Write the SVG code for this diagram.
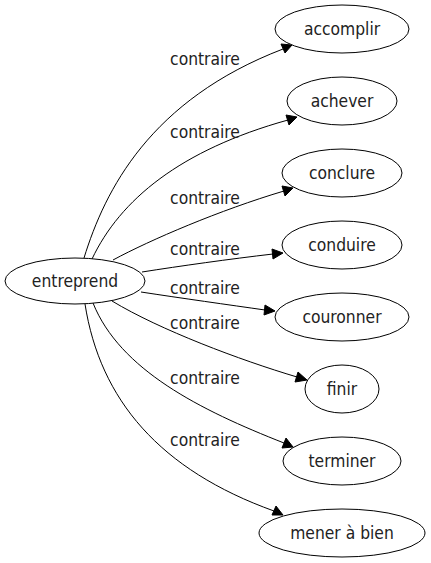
<svg xmlns="http://www.w3.org/2000/svg" width="431" height="563" viewBox="0 0 431 563">
<style>
.n ellipse{fill:#fff;stroke:#000;stroke-width:1}
text{font-family:"DejaVu Sans Condensed","DejaVu Sans",sans-serif;font-stretch:condensed;font-size:17.3px;fill:#222;text-anchor:middle}
.e path{fill:none;stroke:#000;stroke-width:1}
.e polygon{fill:#000;stroke:#000;stroke-width:1}
</style>
<rect width="431" height="563" fill="#fff"/>
<g id="edges" class="e">
<path d="M84,258 C105,190 150,100 283,49"/><polygon points="292,45 281,44 285,53"/>
<text x="205" y="65">contraire</text>
<path d="M92,259 C120,200 180,150 288,120"/><polygon points="297,117 286,115 289,125"/>
<text x="205" y="138">contraire</text>
<path d="M113,260 C150,240 220,210 284,191"/><polygon points="293,188 282,186 285,196"/>
<text x="205" y="204">contraire</text>
<path d="M142,272 C180,266 230,259 273,254"/><polygon points="283,253 272,249 273,259"/>
<text x="205" y="255">contraire</text>
<path d="M141,292 C180,298 230,305 265,310"/><polygon points="275,311 265,305 264,315"/>
<text x="205" y="294">contraire</text>
<path d="M112,301 C160,330 240,360 297,377"/><polygon points="307,380 298,372 295,382"/>
<text x="205" y="329">contraire</text>
<path d="M93,303 C120,370 200,410 284,443"/><polygon points="293,447 286,438 282,448"/>
<text x="205" y="384">contraire</text>
<path d="M85,304 C100,400 160,470 274,511"/><polygon points="283,515 276,506 272,515"/>
<text x="205" y="446">contraire</text>
</g>
<g id="entreprend" class="n"><ellipse cx="75" cy="281" rx="70" ry="23"/><text x="75" y="287">entreprend</text></g>
<g id="accomplir" class="n"><ellipse cx="342" cy="29" rx="67" ry="24"/><text x="342" y="35">accomplir</text></g>
<g id="achever" class="n"><ellipse cx="342" cy="101" rx="55" ry="24"/><text x="342" y="107">achever</text></g>
<g id="conclure" class="n"><ellipse cx="342" cy="173" rx="60" ry="24"/><text x="342" y="179">conclure</text></g>
<g id="conduire" class="n"><ellipse cx="342" cy="245" rx="60" ry="24"/><text x="342" y="251">conduire</text></g>
<g id="couronner" class="n"><ellipse cx="342" cy="317" rx="67" ry="24"/><text x="342" y="323">couronner</text></g>
<g id="finir" class="n"><ellipse cx="342" cy="389" rx="37" ry="24"/><text x="342" y="395">finir</text></g>
<g id="terminer" class="n"><ellipse cx="342" cy="461" rx="59" ry="24"/><text x="342" y="467">terminer</text></g>
<g id="mener" class="n"><ellipse cx="342" cy="533" rx="83" ry="24"/><text x="342" y="539">mener à bien</text></g>
</svg>
